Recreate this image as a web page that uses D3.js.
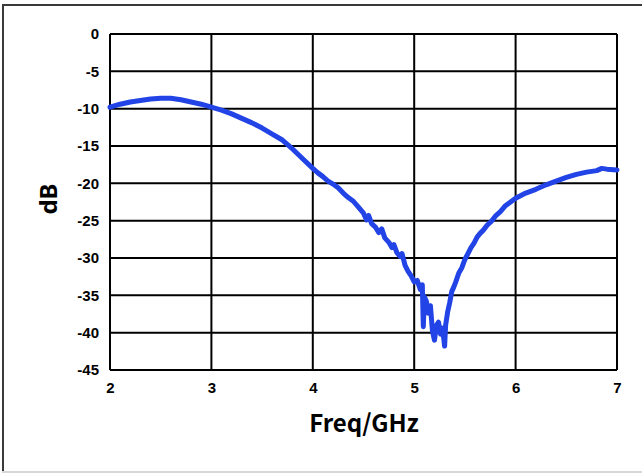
<!DOCTYPE html>
<html>
<head>
<meta charset="utf-8">
<script src="https://cdn.jsdelivr.net/npm/d3@7"></script>
<style>
  html, body { margin: 0; padding: 0; background: #fff; }
  svg { display: block; }
</style>
</head>
<body>
<svg id="chart" width="642" height="473"></svg>
<script>
// Measured reflection coefficient, frequency in GHz and magnitude in dB
const freqGHz = [
  2.00, 2.10, 2.20, 2.30, 2.40, 2.50, 2.60, 2.70, 2.80, 2.90,
  3.00, 3.10, 3.20, 3.30, 3.40, 3.50, 3.60, 3.70, 3.80, 3.90,
  4.00, 4.05, 4.10, 4.15, 4.20, 4.25, 4.30, 4.35, 4.40, 4.45,
  4.50, 4.53, 4.55, 4.58, 4.62, 4.65, 4.68, 4.71, 4.75, 4.78,
  4.80, 4.83, 4.86, 4.88, 4.91, 4.94, 4.97, 5.00, 5.03, 5.06,
  5.08, 5.09, 5.10, 5.12, 5.14, 5.16, 5.18, 5.20, 5.22, 5.24,
  5.26, 5.28, 5.30, 5.31, 5.33, 5.35, 5.37, 5.39, 5.41, 5.44,
  5.47, 5.50, 5.53, 5.56, 5.59, 5.62, 5.65, 5.68, 5.72, 5.76,
  5.80, 5.85, 5.90, 5.95, 6.00, 6.10, 6.20, 6.30, 6.40, 6.50,
  6.60, 6.70, 6.80, 6.85, 6.90, 7.00
];
const s11dB = [
  -9.8, -9.4, -9.1, -8.9, -8.7, -8.6, -8.6, -8.8, -9.1, -9.4,
  -9.8, -10.2, -10.7, -11.3, -11.9, -12.6, -13.4, -14.2, -15.4, -16.7,
  -18.0, -18.6, -19.1, -19.7, -20.1, -20.6, -21.3, -21.9, -22.4, -23.2,
  -24.0, -24.9, -24.3, -25.4, -25.9, -26.6, -26.1, -27.3, -27.9, -28.6,
  -28.2, -29.3, -29.8, -29.4, -31.0, -31.8, -32.4, -33.2, -33.0, -34.2,
  -33.6, -39.2, -35.2, -35.8, -37.4, -36.4, -39.8, -41.0, -39.0, -38.6,
  -40.2, -39.4, -41.8, -39.0, -37.2, -36.0, -34.5, -33.9, -33.2, -32.0,
  -31.3, -30.2, -29.4, -28.6, -28.0, -27.2, -26.7, -26.3, -25.6, -25.1,
  -24.4, -23.8, -23.0, -22.5, -22.0, -21.3, -20.8, -20.2, -19.7, -19.2,
  -18.8, -18.5, -18.3, -18.0, -18.1, -18.2
];
const xTicks = [2, 3, 4, 5, 6, 7];
const yTicks = [0, -5, -10, -15, -20, -25, -30, -35, -40, -45];

const svg = d3.select("#chart");
const W = 642, H = 473;
const plot = { left: 110, right: 617, top: 34, bottom: 370 };

// outer frame
svg.append("line").attr("x1", 3).attr("y1", 4).attr("x2", 3).attr("y2", 472)
  .attr("stroke", "#3a3a3a").attr("stroke-width", 2);
svg.append("line").attr("x1", 2).attr("y1", 5).attr("x2", W).attr("y2", 5)
  .attr("stroke", "#3a3a3a").attr("stroke-width", 2);
svg.append("line").attr("x1", 2).attr("y1", 472).attr("x2", W).attr("y2", 472)
  .attr("stroke", "#d8d8d8").attr("stroke-width", 2);

const x = d3.scaleLinear().domain([2, 7]).range([plot.left, plot.right]);
const y = d3.scaleLinear().domain([-45, 0]).range([plot.bottom, plot.top]);

// grid
const grid = svg.append("g").attr("stroke", "#000").attr("stroke-width", 2);
grid.selectAll("line.v").data(xTicks).join("line").attr("class", "v")
  .attr("x1", d => x(d)).attr("x2", d => x(d))
  .attr("y1", plot.top).attr("y2", plot.bottom);
grid.selectAll("line.h").data(yTicks).join("line").attr("class", "h")
  .attr("x1", plot.left).attr("x2", plot.right)
  .attr("y1", d => y(d)).attr("y2", d => y(d));

// axes (labels only, lines come from the grid)
const tickFont = "'Liberation Sans', Arial, sans-serif";
const plain = d => String(d);
const yAxis = svg.append("g").attr("transform", `translate(${plot.left},0)`)
  .call(d3.axisLeft(y).tickValues(yTicks).tickSize(0).tickPadding(11).tickFormat(plain));
const xAxis = svg.append("g").attr("transform", `translate(0,${plot.bottom})`)
  .call(d3.axisBottom(x).tickValues(xTicks).tickSize(0).tickPadding(12).tickFormat(plain));
[yAxis, xAxis].forEach(a => {
  a.select(".domain").remove();
  a.selectAll("text").attr("font-family", tickFont).attr("font-weight", "bold")
    .attr("font-size", 15).attr("fill", "#000");
});

// curve
const pts = freqGHz.map((f, i) => [f, s11dB[i]]);
svg.append("path").datum(pts)
  .attr("fill", "none").attr("stroke", "#2244e6").attr("stroke-width", 5)
  .attr("stroke-linejoin", "round").attr("stroke-linecap", "round")
  .attr("d", d3.line().x(d => x(d[0])).y(d => y(d[1])));

// axis titles
svg.append("text").attr("transform", "translate(57,199) rotate(-90)")
  .attr("text-anchor", "middle").attr("font-family", "'Noto Sans', sans-serif")
  .attr("font-weight", "bold").attr("font-size", 24).attr("fill", "#000").text("dB");
svg.append("text").attr("x", 364).attr("y", 432)
  .attr("text-anchor", "middle").attr("font-family", "'Noto Sans CJK SC', 'Noto Sans', sans-serif")
  .attr("font-weight", "bold").attr("font-size", 24).attr("fill", "#000").text("Freq/GHz");
</script>
</body>
</html>
